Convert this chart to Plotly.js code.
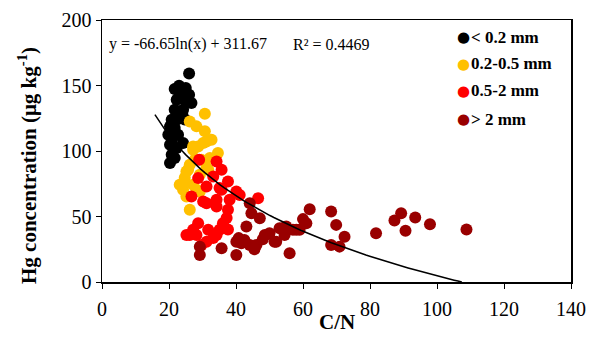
<!DOCTYPE html>
<html>
<head>
<meta charset="utf-8">
<script src="https://cdn.plot.ly/plotly-3.0.1.min.js"></script>
<style>html,body{margin:0;padding:0;background:#fff;}#chart{width:590px;height:347px;}</style>
</head>
<body>
<div id="chart"></div>
<script>
// ---- data ----
const blackX = [26.0,23.0,21.7,25.0,26.0,24.2,22.3,25.2,26.7,21.7,24.2,24.0,20.8,22.3,20.3,21.7,19.8,22.7,24.2,20.3,22.3,20.8,20.3,21.7,23.2,24.7,23.2,20.9];
const blackY = [159.1,149.9,147.4,148.1,143.0,144.3,139.2,136.7,136.7,131.5,131.5,127.7,123.9,123.9,118.8,117.6,112.4,112.4,106.1,104.8,102.3,97.1,90.8,94.6,143.0,124.0,128.0,108.6];

const yellowX = [30.7,26.2,28.2,30.7,32.7,27.2,30.2,34.6,32.2,29.7,25.7,31.7,25.2,24.2,27.2,23.2,25.2,29.2,28.2,26.2,28.7,31.2,27.2,26.2,31.2,24.7,27.7,29.2,24.2];
const yellowY = [128.5,122.6,118.8,115.0,108.6,103.5,106.1,98.4,94.6,93.3,85.7,85.7,84.4,75.5,74.2,74.2,65.2,69.1,70.4,55.1,103.5,107.3,101.0,89.5,87.0,79.5,93.3,81.8,70.4];

const redX = [29.0,34.2,35.7,28.7,33.2,37.6,31.2,35.7,40.1,26.7,30.2,34.2,38.1,41.1,46.6,31.2,34.2,37.6,35.1,28.7,25.2,28.2,31.2,34.2,36.1,35.1,31.7,27.2,29.7,37.2,26.2,33.2,37.6];
const redY = [93.3,92.0,85.7,79.3,80.5,76.7,72.9,70.4,69.1,65.2,61.4,62.7,62.7,66.5,64.0,60.2,57.6,55.1,71.7,44.9,35.9,35.9,30.8,35.9,44.9,39.8,39.8,39.8,28.3,48.9,35.9,33.5,40.0];

const darkX = [29.2,29.2,35.7,40.1,43.1,44.1,44.6,47.1,40.1,41.6,44.1,46.1,48.6,50.0,52.0,53.0,55.0,54.5,56.0,58.0,60.0,61.0,62.0,57.0,59.0,68.4,69.9,72.4,68.4,70.9,81.8,87.3,89.3,93.5,90.6,97.9,108.8,48.0,51.5,54.0,42.5,40.8,45.5];
const darkY = [27.0,20.6,25.8,20.6,42.3,60.2,52.5,48.7,30.8,29.6,28.3,28.3,35.9,37.2,30.8,41.1,42.3,35.9,21.9,39.8,48.0,44.9,55.6,39.8,39.8,53.8,43.6,34.6,28.3,27.0,37.2,46.9,52.5,49.2,39.2,44.1,40.0,32.7,30.8,41.1,32.0,33.5,25.0];

const seriesNames = ['< 0.2 mm', '0.2-0.5 mm', '0.5-2 mm', '> 2 mm'];
const seriesColors = ['#000000', '#FFC000', '#FF0000', '#990000'];

// trendline from the equation printed on the chart: y = -66.65 ln(x) + 311.67
const trendA = -66.65;
const trendB = 311.67;
const trendStart = 15.8;
const trendEnd = 107.4;

const xTicks = [0,20,40,60,80,100,120,140];
const yTicks = [0,50,100,150,200];

// ---- build chart ----
const FONT = 'Liberation Serif, Times New Roman, serif';
const groups = [[blackX,blackY],[yellowX,yellowY],[redX,redY],[darkX,darkY]];
const traces = groups.map((g,i)=>({
  type:'scatter', mode:'markers', x:g[0], y:g[1], name:seriesNames[i],
  marker:{color:seriesColors[i], size:12, line:{width:0}}, showlegend:false, cliponaxis:false
}));
const tx = [], ty = [];
const n = 80;
for (let i=0;i<=n;i++){ const x = trendStart + (trendEnd-trendStart)*i/n; tx.push(x); ty.push(trendA*Math.log(x)+trendB); }
traces.push({type:'scatter', mode:'lines', x:tx, y:ty, line:{color:'#000', width:1.5}, showlegend:false, hoverinfo:'skip'});

const L=102, R=19, T=20, B=65, W=590, H=347;
const pw = W-L-R, ph = H-T-B;
const px = v => (v-L)/pw;
const py = v => (H-B-v)/ph;

const annotations = [
  {xref:'paper', yref:'paper', x:px(107), y:py(44), xanchor:'left', yanchor:'middle', showarrow:false,
   text:'y = -66.65ln(x) + 311.67', font:{family:FONT, size:16, color:'#000'}},
  {xref:'paper', yref:'paper', x:px(291), y:py(44), xanchor:'left', yanchor:'middle', showarrow:false,
   text:'R² = 0.4469', font:{family:FONT, size:16, color:'#000'}},
  {xref:'paper', yref:'paper', x:px(28), y:py(166), xanchor:'center', yanchor:'middle', showarrow:false, textangle:-90,
   text:'<b>Hg concentration (μg kg<sup>-1</sup>)</b>', font:{family:FONT, size:21, color:'#000'}},
  {xref:'paper', yref:'paper', x:px(337), y:py(322), xanchor:'center', yanchor:'middle', showarrow:false,
   text:'<b>C/N</b>', font:{family:FONT, size:21, color:'#000'}}
];
const legY = [37, 64, 91, 119];
seriesNames.forEach((nm,i)=>{
  annotations.push({xref:'paper', yref:'paper', x:px(463), y:py(legY[i]), xanchor:'center', yanchor:'middle', showarrow:false,
    text:'●', font:{family:'DejaVu Sans', size:15, color:seriesColors[i]}});
  annotations.push({xref:'paper', yref:'paper', x:px(469), y:py(legY[i]), xanchor:'left', yanchor:'middle', showarrow:false,
    text:'<b>'+nm.replace(/</g,'&lt;').replace(/>/g,'&gt;')+'</b>', font:{family:FONT, size:17, color:'#000'}});
});

const layout = {
  width:W, height:H, margin:{l:L, r:R, t:T, b:B}, paper_bgcolor:'#fff', plot_bgcolor:'#fff',
  showlegend:false,
  font:{family:FONT, color:'#000'},
  xaxis:{range:[0,140], tickvals:xTicks, ticktext:xTicks.map(String), showgrid:false, zeroline:false,
    showline:true, linecolor:'#000', linewidth:1.5, mirror:true, ticks:'outside', ticklen:5, tickwidth:1, tickcolor:'#000',
    tickfont:{family:FONT, size:20}, ticklabelstandoff:3},
  yaxis:{range:[0,200], tickvals:yTicks, ticktext:yTicks.map(String), showgrid:false, zeroline:false,
    showline:true, linecolor:'#000', linewidth:1.5, mirror:true, ticks:'outside', ticklen:5, tickwidth:1, tickcolor:'#000',
    tickfont:{family:FONT, size:20}},
  annotations:annotations
};
Plotly.newPlot('chart', traces, layout, {displayModeBar:false, staticPlot:true});
</script>
</body>
</html>
